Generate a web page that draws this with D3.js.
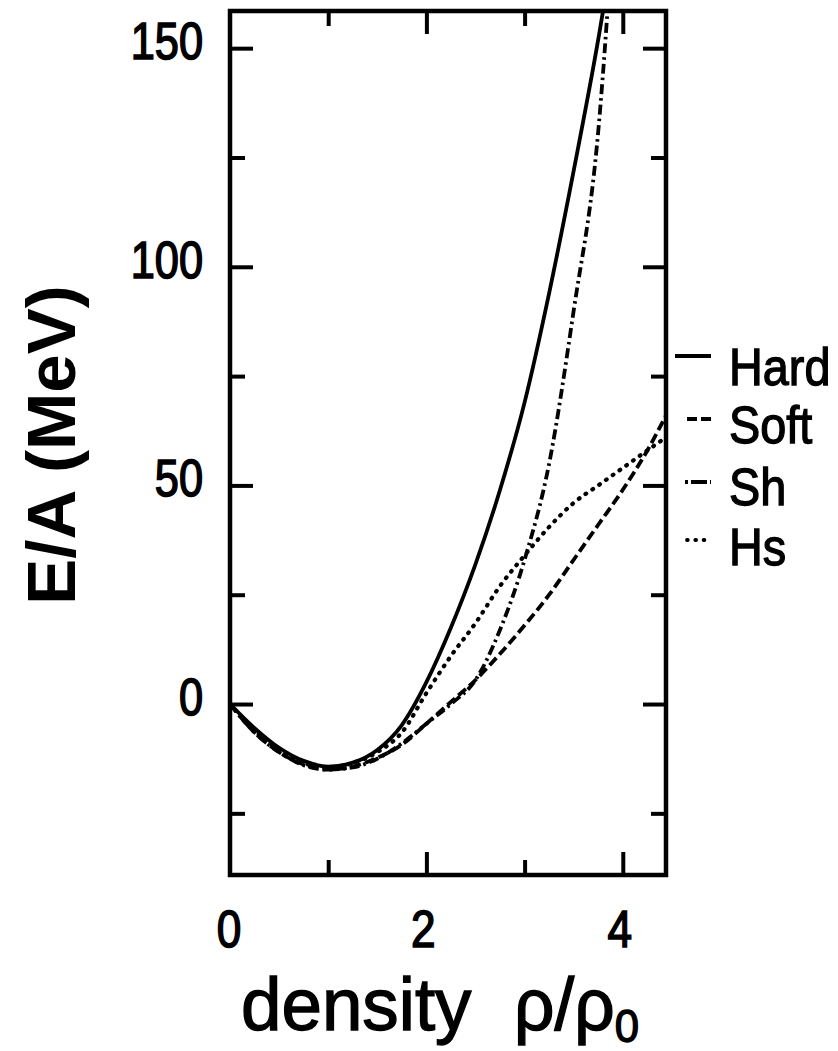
<!DOCTYPE html>
<html><head><meta charset="utf-8">
<script src="https://cdn.jsdelivr.net/npm/d3@7"></script>
<style>body{margin:0;background:#fff} svg{display:block}</style>
</head><body><svg id="c" width="838" height="1051"></svg>
<script>
// ---- data ----
const rhoGrid = [0,0.25,0.5,0.75,1,1.25,1.5,1.75,2,2.25,2.5,2.75,3,3.25,3.5,3.75,4,4.25,4.44];
const hard = [0,-5.5,-10,-13,-14.3,-13.4,-10.5,-4.8,5,17.5,32,49,69,94,122,152,187,null,null];
const soft = [0,-6.5,-11,-13.8,-15,-14.3,-12.3,-9.3,-4.5,0.5,5.5,11.5,18,25,33,41,49,58,66];
const sh   = [0,-6.5,-11,-14,-15,-14.5,-12.5,-9,-4.5,0,5.5,17,33,55,90,131,215,null,null];
const hs   = [0,-6,-10.5,-13.5,-14.5,-13.5,-11,-6.5,2.5,11,18.5,27,34,40.5,46,50,54,58,61];
const seriesNames = ["Hard","Soft","Sh","Hs"];
const xTickValues = [1,2,3,4];
const xMajorTicks = [2,4];
const xTickLabels = [0,2,4];
const yTickValues = [-25,0,25,50,75,100,125,150];
const yMajorTicks = [0,50,100,150];
const yTickLabels = [0,50,100,150];

// ---- layout ----
const L=230, R=666, T=11, B=875;
const x = d3.scaleLinear().domain([0,4.44]).range([L,R]);
const y = d3.scaleLinear().domain([-39.1,158.5]).range([B,T]);
const svg = d3.select("#c");
const FONT = "'Liberation Sans', Arial, sans-serif";

const styles = {
  Hard:{dash:null, cap:"butt"},
  Soft:{dash:"10,4.5", cap:"butt"},
  Sh:{dash:"10,4,2.5,4", cap:"butt"},
  Hs:{dash:"0.8,7.5", cap:"round"}
};
const dataMap = {Hard:hard, Soft:soft, Sh:sh, Hs:hs};

svg.append("defs").append("clipPath").attr("id","clip")
  .append("rect").attr("x",L).attr("y",T).attr("width",R-L).attr("height",B-T);

const line = d3.line()
  .defined(d=>d[1]!==null)
  .x(d=>x(d[0])).y(d=>y(d[1]))
  .curve(d3.curveMonotoneX);

const plot = svg.append("g").attr("clip-path","url(#clip)");
seriesNames.forEach(n=>{
  const pts = rhoGrid.map((r,i)=>[r,dataMap[n][i]]);
  plot.append("path").datum(pts)
    .attr("d",line).attr("fill","none").attr("stroke","#000")
    .attr("stroke-width",n==="Hs"?4.2:3.8)
    .attr("stroke-dasharray",styles[n].dash)
    .attr("stroke-linecap",styles[n].cap);
});

// frame
svg.append("rect").attr("x",L).attr("y",T).attr("width",R-L).attr("height",B-T)
  .attr("fill","none").attr("stroke","#000").attr("stroke-width",4.5);

// ticks using d3 axes (inward)
function styleAxis(g){
  g.select(".domain").remove();
  g.selectAll(".tick line").attr("stroke","#000").attr("stroke-width",4);
  g.selectAll(".tick text").remove();
}
const xLen = v => xMajorTicks.includes(v)?23:15;
const yLen = v => yMajorTicks.includes(v)?23:15;
[["bottom",B],["top",T]].forEach(([side,pos])=>{
  const ax = (side==="bottom"?d3.axisBottom(x):d3.axisTop(x)).tickValues(xTickValues).tickSizeOuter(0);
  const g = svg.append("g").attr("transform",`translate(0,${pos})`).call(ax);
  styleAxis(g);
  g.selectAll(".tick line").attr("y2",d=>side==="bottom"?-xLen(d):xLen(d));
});
[["left",L],["right",R]].forEach(([side,pos])=>{
  const ax = (side==="left"?d3.axisLeft(y):d3.axisRight(y)).tickValues(yTickValues).tickSizeOuter(0);
  const g = svg.append("g").attr("transform",`translate(${pos},0)`).call(ax);
  styleAxis(g);
  g.selectAll(".tick line").attr("x2",d=>side==="left"?yLen(d):-yLen(d));
});

function label(txt,px,py,opts){
  const g = svg.append("g").attr("transform",`translate(${px},${py}) scale(${opts.sx||1},1)`);
  return g.append("text").text(txt)
    .attr("font-family",FONT).attr("font-size",opts.size)
    .attr("font-weight",opts.weight||"normal")
    .attr("text-anchor",opts.anchor||"start")
    .attr("fill","#000").attr("stroke","#000").attr("stroke-width",opts.sw||0);
}
// tick labels
yTickLabels.forEach(v=>label(String(v),203,y(v)+11,{size:51,sx:0.85,anchor:"end",sw:1.6}));
xTickLabels.forEach(v=>label(String(v),x(v)-(v===0?1:3),947,{size:52,sx:0.85,anchor:"middle",sw:1.6}));

// axis titles
svg.append("text").attr("transform","translate(75,445) rotate(-90)")
  .attr("text-anchor","middle").attr("font-family",FONT).attr("font-weight","bold")
  .attr("font-size",69).attr("fill","#000").text("E/A (MeV)");

label("density",241,1030,{size:75,sx:0.97,sw:1.4});
const rt = label("ρ/ρ",514,1030,{size:75,sx:0.95,sw:1.4});
rt.append("tspan").attr("font-size",46).attr("dy",12).text("0");

// legend
const legY = {Hard:356, Soft:419, Sh:482, Hs:540};
const legX1 = {Hard:675, Soft:687, Sh:685, Hs:687};
const legText = {Hard:385, Soft:443, Sh:505, Hs:565};
seriesNames.forEach(n=>{
  svg.append("line").attr("x1",legX1[n]).attr("x2",711).attr("y1",legY[n]).attr("y2",legY[n])
    .attr("stroke","#000").attr("stroke-width",3.8)
    .attr("stroke-dasharray",n==="Soft"?"10,4":n==="Sh"?"3,3,16":n==="Hs"?"0.8,7.5":null)
    .attr("stroke-linecap",n==="Hs"?"round":"butt");
  label(n,729,legText[n],{size:52,sx:0.9,sw:1.3});
});
</script>
</body></html>
